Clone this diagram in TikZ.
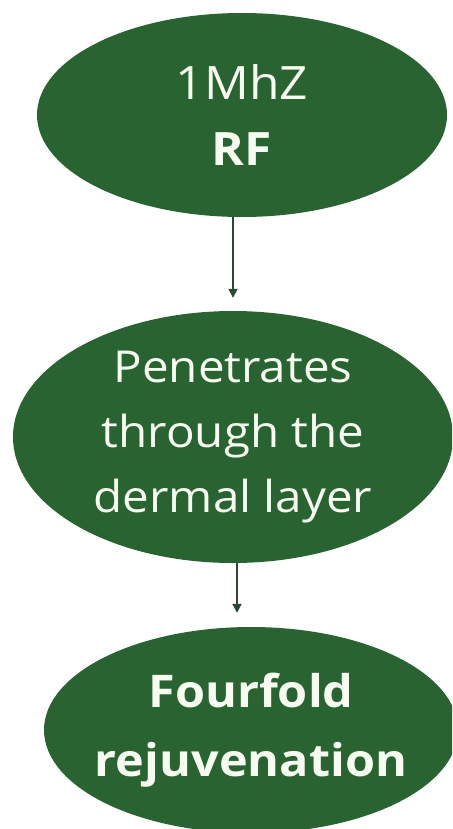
\documentclass[tikz,border=0pt]{standalone}
\usepackage{fontspec}
\setmainfont[FakeStretch=1.08]{Open Sans}
\usetikzlibrary{shapes.geometric,arrows.meta}
\definecolor{leaf}{RGB}{42,99,50}
\definecolor{arrowc}{RGB}{45,72,50}
\definecolor{txt}{RGB}{246,252,240}
\tikzset{
  blob/.style={ellipse, fill=leaf, draw=none, inner sep=-80pt, text=txt, align=center},
  arr/.style={draw=arrowc, line width=1.8pt, -{Triangle[length=9pt,width=9pt]}}
}
\begin{document}
\begin{tikzpicture}[x=1pt,y=-1pt]
\useasboundingbox (0,0) rectangle (452,829);
\clip (0,0) rectangle (452,829);
\node[blob, minimum width=410pt, minimum height=204pt, font=\fontsize{46}{66}\selectfont] (e1) at (242,115)
  {1MhZ\\ \textbf{RF}};
\node[blob, minimum width=440pt, minimum height=252pt, font=\fontsize{44}{65}\selectfont] (e2) at (233,437)
  {Penetrates\\ through the\\ dermal layer};
\node[blob, minimum width=414pt, minimum height=206pt, font=\fontsize{45}{69}\selectfont\bfseries] (e3) at (251,730)
  {Fourfold\\ rejuvenation};
\draw[arr, shorten >=13pt] (e1.south -| e2.north) -- (e2.north);
\draw[arr, shorten >=14pt] ([xshift=4pt]e2.south) -- ([xshift=4pt]e2.south |- e3.north);
\end{tikzpicture}
\end{document}
